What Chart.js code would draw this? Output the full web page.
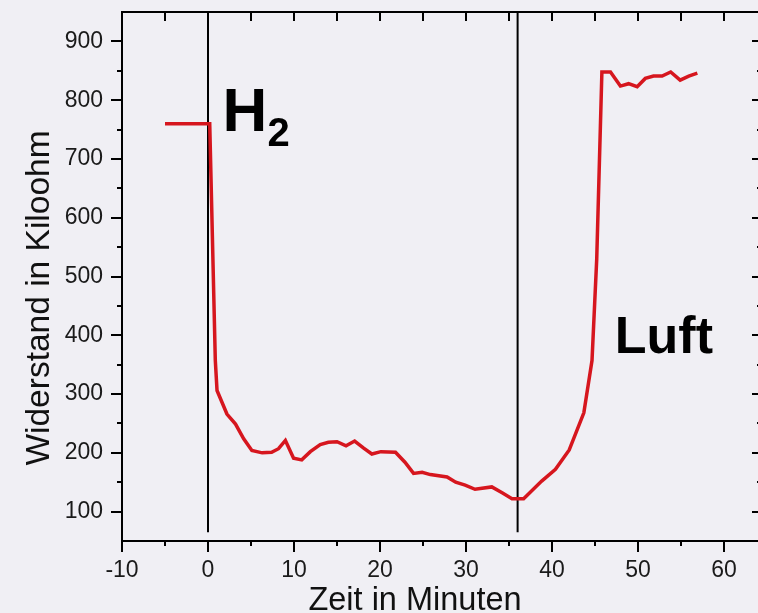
<!DOCTYPE html>
<html>
<head>
<meta charset="utf-8">
<script src="https://cdn.jsdelivr.net/npm/chart.js@4/dist/chart.umd.min.js"></script>
<style>
  html, body { margin: 0; padding: 0; overflow: hidden; background: #f0eff4; }
  canvas { display: block; }
</style>
</head>
<body>
<canvas id="c" width="763" height="613"></canvas>
<script>
// ---- data ----
const timeMin = [-5, 0.2, 0.85, 1.05, 2.2, 3.2, 4.15, 5.1, 6.3, 7.4, 8.2, 9.0, 9.95, 10.9, 11.9, 13.05, 14.0, 15.0, 16.05, 17.05, 18.1, 19.05, 20.1, 21.8, 22.9, 23.9, 24.9, 25.85, 27.8, 28.8, 29.9, 31.05, 33.0, 34.2, 35.35, 36.7, 38.8, 40.4, 42.0, 43.7, 44.65, 45.2, 45.8, 46.8, 47.95, 48.9, 49.9, 50.85, 51.8, 52.8, 53.8, 54.9, 55.9, 56.9];
const resistanceKOhm = [760, 760, 357, 306, 266, 249, 224, 204, 200, 201, 207, 221, 191, 188, 202, 214, 218, 219, 212, 220, 208, 198, 202, 201, 184, 165, 167, 163, 159, 150, 145, 138, 142, 132, 122, 122, 152, 172, 205, 268, 357, 530, 848, 848, 824, 828, 823, 837, 841, 841, 848, 834, 841, 846];
const markerTimes = [0, 36];          // gas switch moments (H2 on, air on)
const markerSpan = [65, 950];         // vertical extent of the marker lines
const xTickValues = [-10, 0, 10, 20, 30, 40, 50, 60];
const yTickValues = [100, 200, 300, 400, 500, 600, 700, 800, 900];
const xTitle = 'Zeit in Minuten';
const yTitle = 'Widerstand in Kiloohm';
const gasLabels = [
  { text: 'H', sub: '2', x: 1.7, y: 747 },
  { text: 'Luft', sub: '', x: 47.3, y: 369 }
];

const FONT = '"Liberation Sans", Arial, Helvetica, sans-serif';

const curve = timeMin.map((t, i) => ({ x: t, y: resistanceKOhm[i] }));
const markerSets = markerTimes.map(t => ({
  data: markerSpan.map(v => ({ x: t, y: v })),
  borderColor: '#000', borderWidth: 2, pointRadius: 0, showLine: true, order: 2
}));

const decor = {
  id: 'decor',
  beforeDraw(chart) {
    const ctx = chart.ctx;
    ctx.save();
    ctx.fillStyle = '#f0eff4';
    ctx.fillRect(0, 0, chart.width, chart.height);
    ctx.restore();
  },
  afterDraw(chart) {
    const ctx = chart.ctx, xs = chart.scales.x, ys = chart.scales.y;
    const a = chart.chartArea;
    ctx.save();
    ctx.strokeStyle = '#000';
    ctx.lineWidth = 2;
    // frame
    ctx.strokeRect(a.left, a.top, a.right - a.left, a.bottom - a.top);
    ctx.beginPath();
    // bottom & top ticks
    for (let v = -10; v <= 64; v += 5) {
      const px = Math.round(xs.getPixelForValue(v));
      const major = v % 10 === 0;
      ctx.moveTo(px, a.bottom); ctx.lineTo(px, a.bottom + (major ? 11 : 5));
      if (v > -10) { ctx.moveTo(px, a.top); ctx.lineTo(px, a.top + 9); }
    }
    // left & right ticks
    for (let v = 100; v <= 900; v += 50) {
      const py = Math.round(ys.getPixelForValue(v));
      const major = v % 100 === 0;
      ctx.moveTo(a.left, py); ctx.lineTo(a.left - (major ? 11 : 5), py);
      ctx.moveTo(a.right, py); ctx.lineTo(a.right - (major ? 9 : 4), py);
    }
    ctx.stroke();

    // axis titles
    ctx.fillStyle = '#111';
    ctx.font = '32.5px ' + FONT;
    ctx.textAlign = 'center';
    ctx.textBaseline = 'alphabetic';
    ctx.fillText(xTitle, 415, 610);
    ctx.save();
    ctx.translate(48.5, 298);
    ctx.rotate(-Math.PI / 2);
    ctx.font = '33.5px ' + FONT;
    ctx.fillText(yTitle, 0, 0);
    ctx.restore();

    // gas labels
    ctx.fillStyle = '#000';
    ctx.textAlign = 'left';
    gasLabels.forEach((g, i) => {
      const px = xs.getPixelForValue(g.x), py = ys.getPixelForValue(g.y);
      const big = i === 0 ? 62 : 52;
      ctx.font = 'bold ' + big + 'px ' + FONT;
      ctx.fillText(g.text, px, py);
      if (g.sub) {
        const w = ctx.measureText(g.text).width;
        ctx.font = 'bold 40px ' + FONT;
        ctx.fillText(g.sub, px + w, py + 15);
      }
    });
    ctx.restore();
  }
};

new Chart(document.getElementById('c'), {
  type: 'scatter',
  data: {
    datasets: [
      { data: curve, borderColor: 'rgb(214,22,30)', borderWidth: 3.5, pointRadius: 0,
        showLine: true, tension: 0, order: 1 },
      ...markerSets
    ]
  },
  options: {
    responsive: false,
    animation: false,
    layout: { padding: { top: 12, right: 2, left: 0, bottom: 0 } },
    plugins: { legend: { display: false }, tooltip: { enabled: false } },
    scales: {
      x: {
        type: 'linear', min: -10, max: 64.3,
        grid: { display: false, drawTicks: true, tickLength: 18 },
        border: { display: false },
        afterBuildTicks: s => { s.ticks = xTickValues.map(v => ({ value: v })); },
        afterFit: s => { s.height = 72; },
        ticks: { font: { size: 23, family: FONT, lineHeight: 1 }, color: '#1a1a1a', padding: 0, maxRotation: 0,
                 callback: v => v }
      },
      y: {
        type: 'linear', min: 50, max: 950,
        grid: { display: false, drawTicks: true, tickLength: 19 },
        border: { display: false },
        afterBuildTicks: s => { s.ticks = yTickValues.map(v => ({ value: v })); },
        afterFit: s => { s.width = 122; },
        ticks: { font: { size: 23, family: FONT, lineHeight: 1 }, color: '#1a1a1a', padding: 0,
                 callback: v => v }
      }
    }
  },
  plugins: [decor]
});
</script>
</body>
</html>
